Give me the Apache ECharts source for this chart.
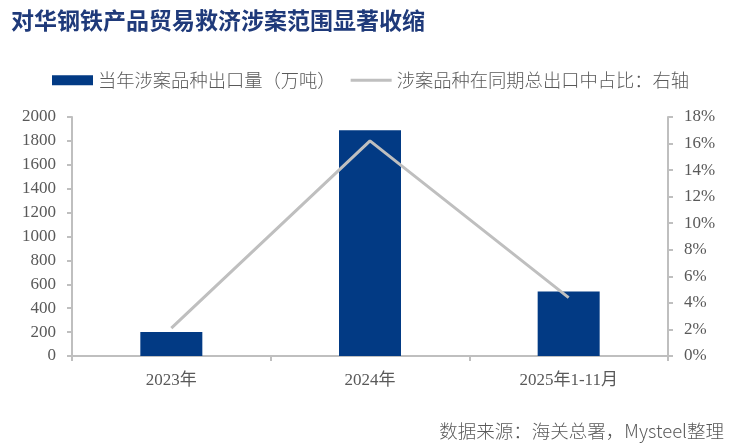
<!DOCTYPE html>
<html>
<head>
<meta charset="utf-8">
<script src="https://cdn.jsdelivr.net/npm/echarts@6/dist/echarts.min.js"></script>
<style>
  html, body { margin: 0; padding: 0; background: #fff; }
  #chart { width: 732px; height: 448px; }
</style>
</head>
<body>
<div id="chart"></div>
<script>
// 数据
var categories = ['2023年', '2024年', '2025年1-11月'];
var exportVolume = [200, 1890, 540];   // 当年涉案品种出口量（万吨）
var exportShare = [2.1, 16.2, 4.4];    // 涉案品种在同期总出口中占比（%）

var axisColor = '#BFBFBF';
var labelColor = '#595959';
var serif = '"Liberation Serif", "Noto Sans CJK SC", serif';
var cjk = '"Noto Sans CJK SC", sans-serif';

var chart = echarts.init(document.getElementById('chart'));

var option = {
  backgroundColor: '#fff',
  animation: false,
  title: {
    text: '对华钢铁产品贸易救济涉案范围显著收缩',
    left: 6,
    top: 4,
    textStyle: {
      color: '#1F3A7A',
      fontSize: 23,
      fontWeight: 'bold',
      fontFamily: cjk
    }
  },
  graphic: [{
    type: 'text',
    right: 8,
    top: 422,
    style: {
      text: '数据来源：海关总署，Mysteel整理',
      fill: labelColor,
      fontSize: 18.5,
      fontFamily: cjk,
      fontWeight: 300
    }
  }],
  legend: {
    top: 66,
    left: 47,
    itemWidth: 41,
    itemHeight: 10,
    itemGap: 15,
    textStyle: {
      color: labelColor,
      fontSize: 18.3,
      fontFamily: cjk,
      fontWeight: 300
    },
    data: [
      { name: '当年涉案品种出口量（万吨）', icon: 'rect' },
      { name: '涉案品种在同期总出口中占比：右轴', icon: 'path://M0,0L41,0L41,3L0,3Z' }
    ]
  },
  grid: {
    left: 72,
    right: 64,
    top: 117,
    bottom: 92,
    containLabel: false
  },
  xAxis: {
    type: 'category',
    data: categories,
    axisLine: { lineStyle: { color: axisColor, width: 2 } },
    axisTick: { show: true, alignWithLabel: false, length: 5, lineStyle: { color: axisColor, width: 2 } },
    axisLabel: {
      color: labelColor,
      fontSize: 17,
      fontFamily: serif,
      margin: 16
    }
  },
  yAxis: [
    {
      type: 'value',
      min: 0,
      max: 2000,
      interval: 200,
      axisLine: { show: true, lineStyle: { color: axisColor, width: 2 } },
      axisTick: { show: true, length: 5, lineStyle: { color: axisColor, width: 2 } },
      splitLine: { show: false },
      axisLabel: {
        color: labelColor,
        fontSize: 17,
        fontFamily: serif,
        margin: 16,
        formatter: function (v) { return String(v); }
      }
    },
    {
      type: 'value',
      min: 0,
      max: 18,
      interval: 2,
      position: 'right',
      axisLine: { show: true, lineStyle: { color: axisColor, width: 2 } },
      axisTick: { show: true, length: 5, lineStyle: { color: axisColor, width: 2 } },
      splitLine: { show: false },
      axisLabel: {
        color: labelColor,
        fontSize: 17,
        fontFamily: serif,
        margin: 16,
        formatter: '{value}%'
      }
    }
  ],
  series: [
    {
      name: '当年涉案品种出口量（万吨）',
      type: 'bar',
      data: exportVolume,
      barWidth: 62,
      itemStyle: { color: '#023A84' }
    },
    {
      name: '涉案品种在同期总出口中占比：右轴',
      type: 'line',
      yAxisIndex: 1,
      data: exportShare,
      symbol: 'none',
      lineStyle: { color: '#BFBFBF', width: 3 },
      itemStyle: { color: '#BFBFBF' }
    }
  ]
};

chart.setOption(option);
</script>
</body>
</html>
